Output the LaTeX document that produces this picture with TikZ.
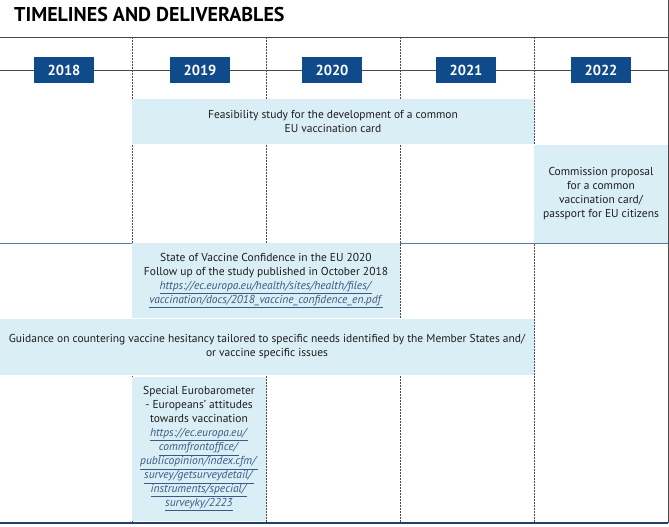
\documentclass[tikz,border=0pt]{standalone}
\usepackage{fontspec}
\setmainfont{PT Sans}
\usepackage{xcolor}
\usetikzlibrary{positioning}

\definecolor{ecblue}{HTML}{0F4A8B}
\definecolor{boxblue}{HTML}{DAEEF5}
\definecolor{linkblue}{HTML}{3A5A86}
\definecolor{rulegray}{HTML}{4A4A4A}
\definecolor{midline}{HTML}{5E7A98}
\definecolor{botline}{HTML}{22406A}
\definecolor{bodytext}{HTML}{1E1E1E}

% underlined italic web address
\newcommand{\weblink}[1]{{\color{linkblue}\underline{\textit{#1}}}}

\begin{document}
\begin{tikzpicture}[x=1pt, y=-1pt,
  yearbox/.style={fill=ecblue, text=white, minimum width=60pt, minimum height=26pt,
    inner sep=0pt, font=\fontsize{14.5}{16}\selectfont\bfseries},
  deliv/.style={fill=boxblue, text=bodytext, inner sep=0pt, align=center,
    font=\fontsize{11.5}{14}\selectfont},
  yeardiv/.style={rulegray, line width=0.9pt, dash pattern=on 1.6pt off 1.4pt},
  rowrule/.style={line width=0.9pt}]
  % page size, 669 x 527 px
  \useasboundingbox (0,0) rectangle (669,527);

  % title
  \node[anchor=base west, inner sep=0pt, font=\fontsize{20}{22}\selectfont\bfseries]
    (title) at (14,22) {TIMELINES AND DELIVERABLES};

  % frame and rules
  \draw[rowrule, rulegray] (0,37) -- (668,37);
  \draw[rowrule, rulegray] (668,0) -- (668,523);
  \draw[rowrule, rulegray] (0,70) -- (668,70);
  \draw[rowrule, midline] (0,243) -- (668,243);

  % year dividers
  \foreach \dx in {132,266,400,534}
    \draw[yeardiv] (\dx,37) -- (\dx,523);

  % years
  \foreach \yr/\cx in {2018/64, 2019/200, 2020/332, 2021/466, 2022/601}
    \node[yearbox] (y\yr) at (\cx,70) {\yr};

  % deliverables
  \node[deliv, minimum width=402pt, minimum height=45pt] (feasib) at (333,121.5)
    {Feasibility study for the development of a common\\EU vaccination card};
  \node[deliv, minimum width=134pt, minimum height=98pt] (proposal) at (601,194)
    {Commission proposal\\for a common\\vaccination card/\\passport for EU citizens};
  \node[deliv, minimum width=268pt, minimum height=75pt] (confid) at (266,280.5)
    {State of Vaccine Confidence in the EU 2020\\
     Follow up of the study published in October 2018\\
     \weblink{https://ec.europa.eu/health/sites/health/files/}\\
     \weblink{vaccination/docs/2018\_vaccine\_confidence\_en.pdf}};
  \node[deliv, minimum width=534pt, minimum height=56pt] (guidance) at (267,347)
    {Guidance on countering vaccine hesitancy tailored to specific needs identified by the Member States and/\\
     or vaccine specific issues};
  \node[deliv, minimum width=134pt, minimum height=144pt] (eurobar) at (199,449)
    {Special Eurobarometer\\- Europeans' attitudes\\towards vaccination\\
     \weblink{https://ec.europa.eu/}\\\weblink{commfrontoffice/}\\
     \weblink{publicopinion/index.cfm/}\\\weblink{survey/getsurveydetail/}\\
     \weblink{instruments/special/}\\\weblink{surveyky/2223}};

  % bottom rule
  \draw[line width=1.4pt, botline] (0,523) -- (668,523);
\end{tikzpicture}
\end{document}
